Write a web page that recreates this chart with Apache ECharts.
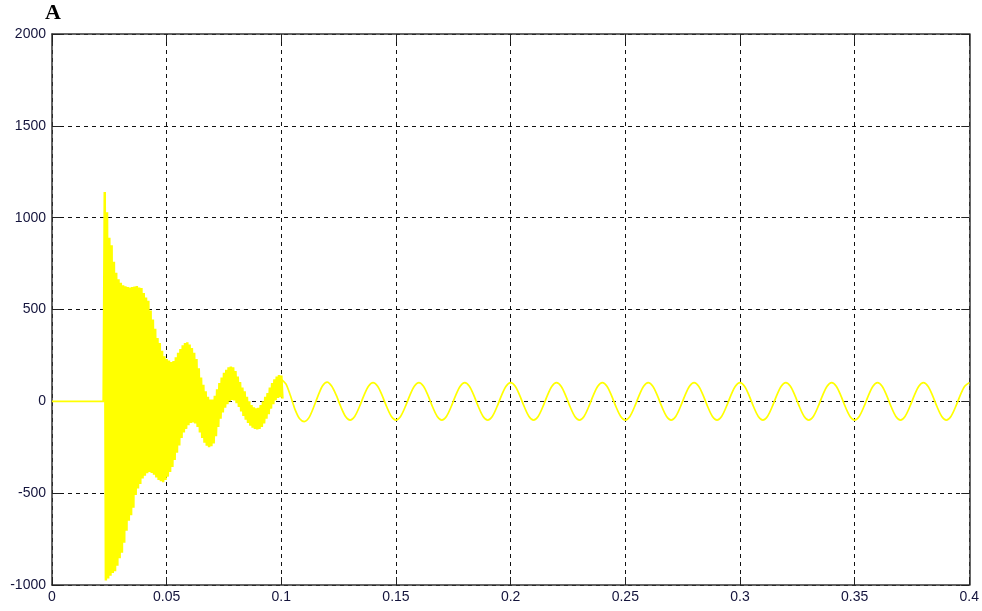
<!DOCTYPE html>
<html>
<head>
<meta charset="utf-8">
<script src="https://cdn.jsdelivr.net/npm/echarts@6/dist/echarts.min.js"></script>
<style>
html,body{margin:0;padding:0;background:#fff;}
#chart{width:982px;height:611px;}
</style>
</head>
<body>
<div id="chart"></div>
<script>
// ---- data ----
const yTitle = 'A';
const xMin = 0, xMax = 0.4, xInterval = 0.05;
const yMin = -1000, yMax = 2000, yInterval = 500;

// flat part before the fault
const preTimes  = [0, 0.0225, 0.023];
const preValues = [0, 0, 0];

// transient: upper and lower envelope of the fast oscillation, one value per ms from 0.023 s to 0.100 s
const envStart = 0.023, envStep = 0.001;
const envUpper = [
  1140, 1030, 890, 850, 760, 700, 665, 645, 632, 626,
  622, 620, 622, 625, 628, 620, 617, 590, 565, 548,
  495, 445, 395, 345, 318, 275, 245, 230, 222, 214,
  220, 240, 265, 285, 305, 318, 322, 310, 290, 265,
  230, 180, 130, 90, 55, 25, 10, 10, 30, 65,
  100, 130, 155, 172, 185, 190, 185, 165, 135, 105,
  75, 55, 25, 0, -20, -32, -38, -35, -20, 0,
  25, 45, 75, 100, 120, 135, 143, 140
];
const envLower = [
  -975, -965, -950, -935, -925, -895, -855, -825, -770, -705,
  -650, -620, -580, -510, -475, -450, -420, -405, -392, -385,
  -390, -400, -415, -428, -435, -440, -428, -410, -385, -358,
  -320, -280, -240, -200, -170, -150, -130, -118, -115, -120,
  -140, -170, -200, -225, -242, -250, -245, -230, -190, -140,
  -95, -60, -35, -15, 0, 7, 5, -10, -30, -55,
  -80, -100, -118, -132, -143, -150, -153, -150, -140, -120,
  -95, -70, -40, -15, 5, 18, 23, 15
];

// steady state: one value every 2 ms from 0.100 s to 0.400 s
const steadyStart = 0.1, steadyStep = 0.002;
const steadyValues = [
  120, 95, 30, -45, -95, -110, -90, -35, 30, 85,
  105, 82, 32, -31, -82, -102, -82, -31, 31, 82,
  102, 82, 31, -31, -82, -102, -82, -31, 31, 82,
  102, 82, 31, -31, -82, -102, -82, -31, 31, 82,
  102, 82, 31, -31, -82, -102, -82, -31, 31, 82,
  102, 82, 31, -31, -82, -102, -82, -31, 31, 82,
  102, 82, 31, -31, -82, -102, -82, -31, 31, 82,
  102, 82, 31, -31, -82, -102, -82, -31, 31, 82,
  102, 82, 31, -31, -82, -102, -82, -31, 31, 82,
  102, 82, 31, -31, -82, -102, -82, -31, 31, 82,
  102, 82, 31, -31, -82, -102, -82, -31, 31, 82,
  102, 82, 31, -31, -82, -102, -82, -31, 31, 82,
  102, 82, 31, -31, -82, -102, -82, -31, 31, 82,
  102, 82, 31, -31, -82, -102, -82, -31, 31, 82,
  102, 82, 31, -31, -82, -102, -82, -31, 31, 82,
  102
];

// ---- build series data from the arrays ----
const preData = preTimes.map((t, i) => [t, preValues[i]]);
const transientData = [[preTimes[1], preValues[1]]];
for (let i = 0; i < envUpper.length; i++) {
  const t = envStart + i * envStep;
  transientData.push([t, envUpper[i]]);
  transientData.push([t + envStep / 2, envLower[i]]);
}
const steadyData = steadyValues.map((v, i) => [steadyStart + i * steadyStep, v]);

const labelStyle = { color: '#14143c', fontSize: 14, fontFamily: '"Liberation Sans", Arial, sans-serif' };
const frameLine = { show: true, onZero: false, lineStyle: { color: '#333', width: 1.5 } };
const tickIn = { show: true, inside: true, length: 8, lineStyle: { color: '#222', width: 1 } };
const gridLine = { show: true, lineStyle: { color: '#111', width: 1, type: [4, 4] } };

const chart = echarts.init(document.getElementById('chart'), null, { renderer: 'canvas' });
chart.setOption({
  animation: false,
  backgroundColor: '#fff',
  grid: { left: 52, top: 34, right: 10, bottom: 26, containLabel: false },
  graphic: [{
    type: 'text', left: 45, top: 2,
    style: { text: yTitle, font: 'bold 22px "Liberation Serif", "Times New Roman", serif', fill: '#000' }
  }],
  xAxis: [{
    type: 'value', position: 'bottom', min: xMin, max: xMax, interval: xInterval,
    axisLine: frameLine, axisTick: tickIn, splitLine: gridLine,
    axisLabel: Object.assign({ margin: 5, formatter: v => String(+v.toFixed(2)) }, labelStyle)
  }, {
    type: 'value', position: 'top', min: xMin, max: xMax, interval: xInterval,
    axisLine: frameLine, axisTick: tickIn, splitLine: { show: false }, axisLabel: { show: false }
  }],
  yAxis: [{
    type: 'value', position: 'left', min: yMin, max: yMax, interval: yInterval,
    axisLine: frameLine, axisTick: tickIn, splitLine: gridLine,
    axisLabel: Object.assign({ margin: 6, formatter: v => String(v) }, labelStyle)
  }, {
    type: 'value', position: 'right', min: yMin, max: yMax, interval: yInterval,
    axisLine: frameLine, axisTick: tickIn, splitLine: { show: false }, axisLabel: { show: false }
  }],
  series: [{
    type: 'line', xAxisIndex: 0, yAxisIndex: 0, data: preData,
    showSymbol: false, lineStyle: { color: '#ffff00', width: 1.6 }, itemStyle: { color: '#ffff00' }
  }, {
    type: 'line', xAxisIndex: 0, yAxisIndex: 0, data: transientData,
    showSymbol: false, sampling: null, smooth: false,
    lineStyle: { color: '#ffff00', width: 2.5, join: 'bevel' }, itemStyle: { color: '#ffff00' }
  }, {
    type: 'line', xAxisIndex: 0, yAxisIndex: 0, data: steadyData,
    showSymbol: false, smooth: 0.3,
    lineStyle: { color: '#ffff00', width: 1.7 }, itemStyle: { color: '#ffff00' }
  }]
});
</script>
</body>
</html>
